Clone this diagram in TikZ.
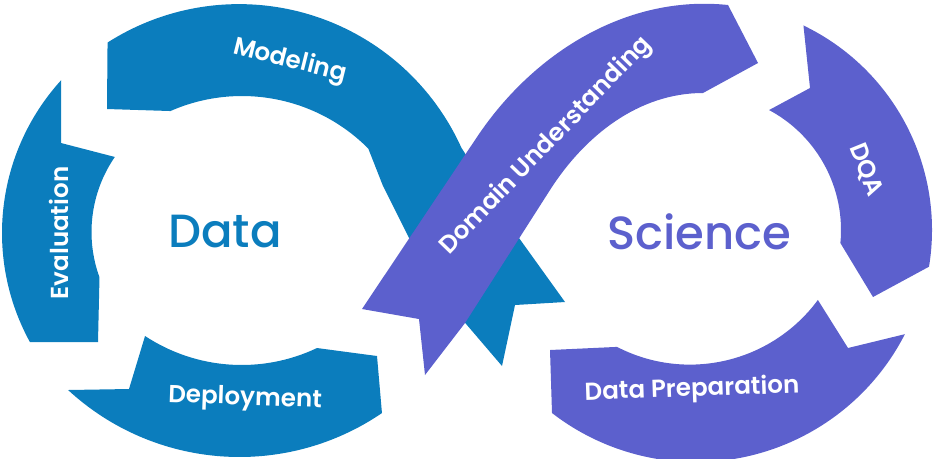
\documentclass[tikz,border=0pt]{standalone}
\usepackage{fontspec}
\setmainfont{Poppins}
\newfontfamily\medfont{Poppins}[UprightFont={* Medium}]
\newfontfamily\semifont{Poppins}[UprightFont={* SemiBold}]
\usetikzlibrary{calc}
\definecolor{dsblue}{HTML}{0B7DBD}
\definecolor{dspurple}{HTML}{5C60CD}

\begin{document}
\begin{tikzpicture}[x=0.02cm, y=-0.02cm,
    bandlabel/.style={text=white, font=\semifont\fontsize{14}{16}\selectfont, inner sep=0pt},
    hub/.style={font=\medfont\fontsize{26.5}{30}\selectfont, inner sep=0pt}]
    \useasboundingbox (0,0) rectangle (935,458);

    % arc centres
    \coordinate (cMo) at (239,248.1);
    \coordinate (cMi) at (242,274);
    \coordinate (cEo) at (229,233);
    \coordinate (cEi) at (224,232);
    \coordinate (cDo) at (239.5,204.2);
    \coordinate (cDi) at (241.7,189.4);
    \coordinate (cQ) at (705,230);
    \coordinate (cPo) at (695.7,227.1);
    \coordinate (cPi) at (689.9,205.6);

    % left loop
    \fill[dsblue] ($(cMo)+(-122.6:244)$) arc[start angle=-122.6, end angle=-24.3, radius=244]
        -- (519,238) -- (565,302) -- (515,305) -- (502,366) -- (455,311) -- (410,240) -- (383,186)
        -- ($(cMi)+(-44.8:178)$) arc[start angle=-44.8, end angle=-113.7, radius=178]
        -- (107,109) -- cycle;
    \fill[dsblue] (61,143) -- ($(cEo)+(-137.7:227)$) arc[start angle=-137.7, end angle=-208.7, radius=227]
        -- (98,342) -- ($(cEi)+(160:132.5)$) arc[start angle=160, end angle=214.5, radius=132.5] -- cycle;
    \fill[dsblue] (68,390) -- (129,389) -- ($(cDi)+(123.4:175.6)$) arc[start angle=123.4, end angle=64.6, radius=175.6]
        -- (377,356) -- ($(cDo)+(55.7:252.8)$) arc[start angle=55.7, end angle=132.7, radius=252.8] -- cycle;

    % right loop
    \fill[dspurple] (362,309) -- (477,137) .. controls (533.5,52.5) and (627,-5.6) .. (728,5)
        -- (758,63) -- (703,93) .. controls (638.6,93) and (584.7,135.7) .. (550,190)
        -- (465,323) -- (425,375) -- (419,319) -- cycle;
    \fill[dspurple] (810,88) -- ($(cQ)+(-64.3:227)$) arc[start angle=-64.3, end angle=9.3, radius=227]
        -- (873,297) -- ($(cQ)+(5.5:136)$) arc[start angle=5.5, end angle=-61.9, radius=136] -- cycle;
    \fill[dspurple] (552,413) -- (550,350) -- ($(cPi)+(117.3:159)$) arc[start angle=117.3, end angle=36.4, radius=159]
        -- (848,348) -- ($(cPo)+(27.1:235)$) arc[start angle=27.1, end angle=127.7, radius=235] -- cycle;

    % labels
    \node[bandlabel, rotate=-14] (modeling) at (290,61) {Modeling};
    \node[bandlabel, rotate=90] (evaluation) at (59,233) {Evaluation};
    \node[bandlabel, rotate=-2] (deployment) at (245,399) {Deployment};
    \node[bandlabel, rotate=46] (domain) at (546,146) {Domain Understanding};
    \node[bandlabel, rotate=-68] (dqa) at (866,170) {DQA};
    \node[bandlabel, rotate=2] (dataprep) at (692,390) {Data Preparation};

    \node[hub, text=dsblue] (data) at (225,232) {Data};
    \node[hub, text=dspurple] (science) at (699,232) {Science};
\end{tikzpicture}
\end{document}
